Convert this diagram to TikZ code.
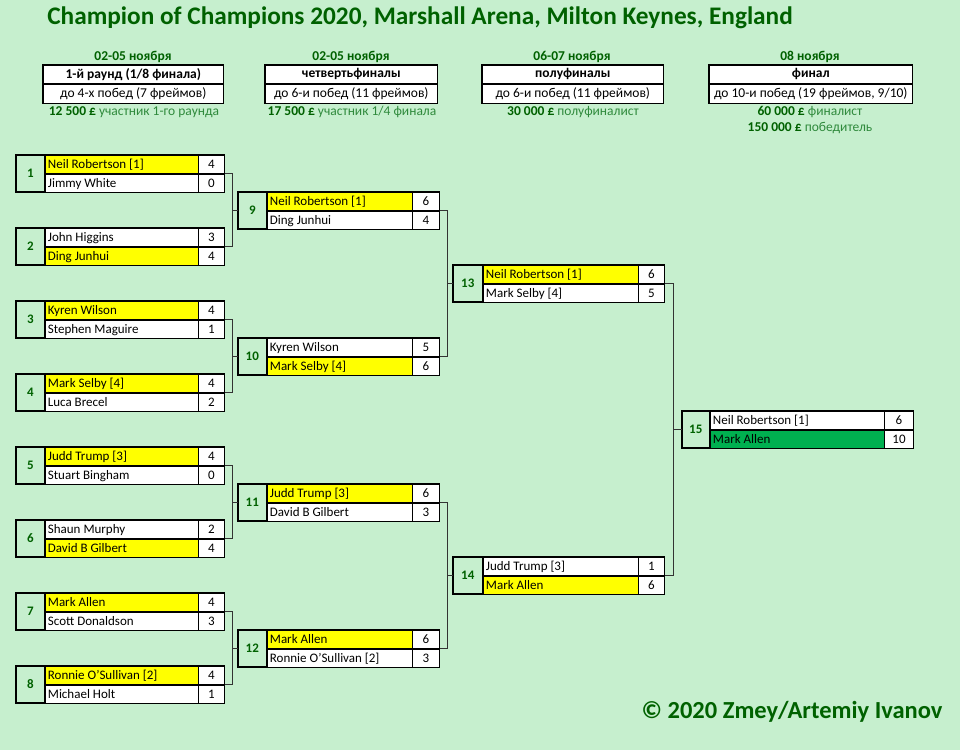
\documentclass[tikz,border=0pt]{standalone}
\usepackage{fontspec}
\setmainfont{Carlito}
\usepackage{tikz}

\definecolor{bggreen}{HTML}{C6EFCE}
\definecolor{darkgreen}{HTML}{006100}
\definecolor{prizegreen}{HTML}{2F8A3C}
\definecolor{winyellow}{HTML}{FFFF00}
\definecolor{wingreen}{HTML}{00B050}

\tikzset{
	cell/.style={draw=black, line width=0.6pt, inner ysep=0pt, minimum height=18pt, anchor=north west},
	numcell/.style={cell, fill=bggreen, inner xsep=0pt, minimum width=\numw pt, minimum height=36pt,
		font=\bfseries\fontsize{13}{14}\selectfont, text=darkgreen},
	namecell/.style={cell, inner xsep=3pt, text height=10.5pt, text depth=1.5pt, font=\fontsize{13}{14}\selectfont},
	scorecell/.style={cell, fill=white, inner xsep=0pt, minimum width=\sw pt, text height=10.5pt, text depth=1.5pt,
		font=\fontsize{13}{14}\selectfont},
	frame/.style={draw=black, line width=1.3pt},
	link/.style={draw=black!80, line width=0.8pt},
	hdrcell/.style={cell, fill=white, inner xsep=0pt, minimum width=\hw pt, font=\fontsize{13.5}{14}\selectfont},
	datelbl/.style={font=\bfseries\fontsize{13.5}{14}\selectfont, text=darkgreen},
	prizelbl/.style={font=\fontsize{13.5}{14}\selectfont, text=prizegreen},
}

% one match: id, top-left, number, player 1, score 1, player 2, score 2, fill 1, fill 2
\newcommand{\matchbox}[9]{%
	\pgfmathsetmacro\nwt{\nw-6}%
	\node[numcell] (m#1) at (#2) {#3};
	\node[namecell, fill=#8] (m#1p1) at (m#1.north east) {\makebox[\nwt pt][l]{#4}};
	\node[scorecell] (m#1s1) at (m#1p1.north east) {#5};
	\node[namecell, fill=#9] (m#1p2) at (m#1p1.south west) {\makebox[\nwt pt][l]{#6}};
	\node[scorecell] (m#1s2) at (m#1p2.north east) {#7};
	\draw[frame] (m#1.north west) rectangle (m#1s2.south east);
}

% round header: id, top-left, width, stage, rule
\newcommand{\roundhdr}[5]{%
	\def\hw{#3}%
	\node[hdrcell, font=\bfseries\fontsize{13.5}{14}\selectfont] (h#1a) at (#2) {#4};
	\node[hdrcell, minimum height=19pt] (h#1b) at (h#1a.south west) {#5};
	\draw[frame] (h#1a.north west) rectangle (h#1b.south east);
}

\begin{document}
\begin{tikzpicture}[x=1pt, y=-1pt]
	\fill[bggreen] (0,0) rectangle (960,750);
	\useasboundingbox (0,0) rectangle (960,750);

	\node[font=\bfseries\fontsize{25.3}{28}\selectfont, text=darkgreen] (title) at (420,18)
		{Champion of Champions 2020, Marshall Arena, Milton Keynes, England};

	% headers
	\node[datelbl] (d1) at (133,57) {02-05 ноября};
	\node[datelbl] (d2) at (351,57) {02-05 ноября};
	\node[datelbl] (d3) at (572,57) {06-07 ноября};
	\node[datelbl] (d4) at (810,57) {08 ноября};

	\roundhdr{1}{43,65}{180}{1-й раунд (1/8 финала)}{до 4-х побед (7 фреймов)}
	\roundhdr{2}{265,65}{172}{четвертьфиналы}{до 6-и побед (11 фреймов)}
	\roundhdr{3}{482,65}{181}{полуфиналы}{до 6-и побед (11 фреймов)}
	\roundhdr{4}{709,65}{203}{финал}{до 10-и побед (19 фреймов, 9/10)}

	\node[prizelbl] (pr1) at (134,112) {\textbf{\textcolor{darkgreen}{12 500 £}} участник 1-го раунда};
	\node[prizelbl] (pr2) at (352,112) {\textbf{\textcolor{darkgreen}{17 500 £}} участник 1/4 финала};
	\node[prizelbl] (pr3) at (573,112) {\textbf{\textcolor{darkgreen}{30 000 £}} полуфиналист};
	\node[prizelbl] (pr4) at (810,112) {\textbf{\textcolor{darkgreen}{60 000 £}} финалист};
	\node[prizelbl] (pr5) at (810,128) {\textbf{\textcolor{darkgreen}{150 000 £}} победитель};

	% 1/8
	\def\numw{28}\def\nw{153}\def\sw{26}
	\matchbox{1}{16,155}{1}{Neil Robertson [1]}{4}{Jimmy White}{0}{winyellow}{white}
	\matchbox{2}{16,228}{2}{John Higgins}{3}{Ding Junhui}{4}{white}{winyellow}
	\matchbox{3}{16,301}{3}{Kyren Wilson}{4}{Stephen Maguire}{1}{winyellow}{white}
	\matchbox{4}{16,374}{4}{Mark Selby [4]}{4}{Luca Brecel}{2}{winyellow}{white}
	\matchbox{5}{16,447}{5}{Judd Trump [3]}{4}{Stuart Bingham}{0}{winyellow}{white}
	\matchbox{6}{16,520}{6}{Shaun Murphy}{2}{David B Gilbert}{4}{white}{winyellow}
	\matchbox{7}{16,593}{7}{Mark Allen}{4}{Scott Donaldson}{3}{winyellow}{white}
	\matchbox{8}{16,666}{8}{Ronnie O'Sullivan [2]}{4}{Michael Holt}{1}{winyellow}{white}

	% 1/4
	\def\numw{28}\def\nw{145}\def\sw{27}
	\matchbox{9}{238,192}{9}{Neil Robertson [1]}{6}{Ding Junhui}{4}{winyellow}{white}
	\matchbox{10}{238,338}{10}{Kyren Wilson}{5}{Mark Selby [4]}{6}{white}{winyellow}
	\matchbox{11}{238,484}{11}{Judd Trump [3]}{6}{David B Gilbert}{3}{winyellow}{white}
	\matchbox{12}{238,630}{12}{Mark Allen}{6}{Ronnie O'Sullivan [2]}{3}{winyellow}{white}

	% 1/2
	\def\numw{29}\def\nw{155}\def\sw{26}
	\matchbox{13}{453,265}{13}{Neil Robertson [1]}{6}{Mark Selby [4]}{5}{winyellow}{white}
	\matchbox{14}{453,557}{14}{Judd Trump [3]}{1}{Mark Allen}{6}{white}{winyellow}

	% final
	\def\numw{27}\def\nw{174}\def\sw{29}
	\matchbox{15}{682,411}{15}{Neil Robertson [1]}{6}{Mark Allen}{10}{white}{wingreen}

	% links
	\draw[link] (m1s1.south east) -- ++(8,0) |- (m9.west);
	\draw[link] (m2s1.south east) -- ++(8,0) |- (m9.west);
	\draw[link] (m3s1.south east) -- ++(8,0) |- (m10.west);
	\draw[link] (m4s1.south east) -- ++(8,0) |- (m10.west);
	\draw[link] (m5s1.south east) -- ++(8,0) |- (m11.west);
	\draw[link] (m6s1.south east) -- ++(8,0) |- (m11.west);
	\draw[link] (m7s1.south east) -- ++(8,0) |- (m12.west);
	\draw[link] (m8s1.south east) -- ++(8,0) |- (m12.west);
	\draw[link] (m9s1.south east) -- ++(8,0) |- (m13.west);
	\draw[link] (m10s1.south east) -- ++(8,0) |- (m13.west);
	\draw[link] (m11s1.south east) -- ++(8,0) |- (m14.west);
	\draw[link] (m12s1.south east) -- ++(8,0) |- (m14.west);
	\draw[link] (m13s1.south east) -- ++(9,0) |- (m15.west);
	\draw[link] (m14s1.south east) -- ++(9,0) |- (m15.west);

	\node[font=\bfseries\fontsize{24.5}{28}\selectfont, text=darkgreen, anchor=east] (copy) at (946,712)
		{© 2020 Zmey/Artemiy Ivanov};
\end{tikzpicture}
\end{document}
